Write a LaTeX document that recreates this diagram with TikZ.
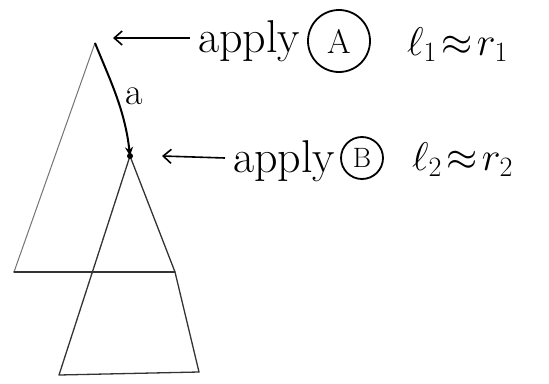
\RequirePackage{fix-cm}
\documentclass[tikz,border=0pt]{standalone}
\usetikzlibrary{arrows.meta}
\begin{document}
\begin{tikzpicture}[x=1pt,y=-1pt,
  pen/.style={line width=1.3pt,draw=black!80,line cap=round,line join=round},
  thinpen/.style={line width=1pt,draw=black!55,line cap=round},
  ptr/.style={line width=1.6pt,draw=black,-{Straight Barb[length=8pt,width=14pt]}},
  lbl/.style={font=\fontsize{46}{50}\selectfont,inner sep=0pt,anchor=base west},
  eqn/.style={font=\fontsize{40}{44}\selectfont,inner sep=0pt,anchor=base west},
  circ/.style={draw,circle,line width=1.8pt,inner sep=0pt,font=\fontsize{34}{36}\selectfont}]
\useasboundingbox (0,0) rectangle (549,383);
% vertices
\coordinate (apex) at (95,43);
\coordinate (bl1) at (14,272);
\coordinate (br1) at (175,272);
\coordinate (dot) at (130,156);
\coordinate (bl2) at (59,375);
\coordinate (br2) at (199,372);
% triangles
\draw[thinpen] (bl1) -- (apex);
\draw[pen] (bl1) -- (br1);
\draw[pen] (dot) -- (br1) -- (br2);
\draw[pen] (dot) -- (bl2) -- (br2);
\draw[line width=2pt,-{Stealth[length=9pt,width=8pt]}] (apex) .. controls (110,80) and (125,110) .. (dot);
\fill (dot) circle (3pt);
\node[font=\fontsize{38}{40}\selectfont,inner sep=0pt] (a) at (134,96) {a};
% row 1
\node[lbl] (ap1) at (198,52) {apply};
\node[circ,minimum width=62pt] (cA) at (339,41) {A};
\node[eqn] (eq1) at (407,55) {$\ell_1\!\approx\! r_1$};
\draw[ptr] (190,38) -- (113,38);
% row 2
\node[lbl] (ap2) at (233,172) {apply};
\node[circ,minimum width=42pt,font=\fontsize{28}{30}\selectfont] (cB) at (362,158) {B};
\node[eqn] (eq2) at (412,170) {$\ell_2\!\approx\! r_2$};
\draw[ptr] (225,158) -- (162,156);
\end{tikzpicture}
\end{document}
